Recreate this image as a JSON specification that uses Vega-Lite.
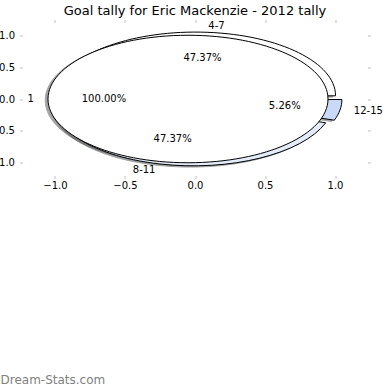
{
  "$schema": "https://vega.github.io/schema/vega-lite/v6.json",
  "autosize": {"type": "none"},
  "width": 345,
  "height": 153,
  "padding": {"left": 22.5, "top": 22.5, "right": 22.5, "bottom": 214.5},
  "background": "white",
  "title": {
    "text": "Goal tally for Eric Mackenzie - 2012 tally",
    "font": "DejaVu Sans",
    "fontSize": 13,
    "fontWeight": "normal",
    "color": "black",
    "anchor": "middle",
    "baseline": "alphabetic",
    "offset": 8,
    "dy": 17
  },
  "config": {"view": {"stroke": null}},
  "data": {
    "values": [
      {"pie": "B", "group": "4-7", "goals": 9, "order": 1},
      {"pie": "B", "group": "8-11", "goals": 9, "order": 2},
      {"pie": "B", "group": "12-15", "goals": 1, "order": 3},
      {"pie": "A", "group": "1", "goals": 1, "order": 1}
    ]
  },
  "transform": [
    {"joinaggregate": [{"op": "sum", "field": "goals", "as": "total"}], "groupby": ["pie"]},
    {"window": [{"op": "sum", "field": "goals", "as": "cum"}], "sort": [{"field": "order"}], "groupby": ["pie"], "frame": [null, 0]},
    {"calculate": "2*PI*(datum.cum - datum.goals)/datum.total", "as": "a0"},
    {"calculate": "2*PI*datum.cum/datum.total", "as": "a1"},
    {"calculate": "(datum.a0 + datum.a1)/2", "as": "mid"},
    {"calculate": "0.05*cos(datum.mid)", "as": "cx"},
    {"calculate": "0.05*sin(datum.mid)", "as": "cy"},
    {"calculate": "datum.cx - 0.02", "as": "sx"},
    {"calculate": "datum.cy - 0.02", "as": "sy"},
    {"calculate": "datum.cx + 1.1*cos(datum.mid)", "as": "lx"},
    {"calculate": "datum.cy + 1.1*sin(datum.mid)", "as": "ly"},
    {"calculate": "datum.cx + 0.6*cos(datum.mid)", "as": "tx"},
    {"calculate": "datum.cy + 0.6*sin(datum.mid)", "as": "ty"},
    {"calculate": "format(datum.goals/datum.total*100, '.2f') + '%'", "as": "pct"},
    {"calculate": "datum.a1 - datum.a0 >= 2*PI - 1e-9 ? 'M140,0A140,63.75 0 1,0 -140,0A140,63.75 0 1,0 140,0Z' : 'M0,0L' + round(140*cos(datum.a0)*100)/100 + ',' + round(-63.75*sin(datum.a0)*100)/100 + 'A140,63.75 0 ' + (datum.a1 - datum.a0 > PI ? 1 : 0) + ',0 ' + round(140*cos(datum.a1)*100)/100 + ',' + round(-63.75*sin(datum.a1)*100)/100 + 'Z'", "as": "path"}
  ],
  "layer": [
    {
      "mark": {"type": "point", "filled": true, "size": 4, "opacity": 0.5, "strokeWidth": 1},
      "encoding": {
        "x": {
          "field": "sx", "type": "quantitative",
          "scale": {"domain": [-1.2321, 1.2321], "nice": false, "zero": false},
          "axis": {
            "orient": "bottom", "values": [-1, -0.5, 0, 0.5, 1], "format": ".1f",
            "domain": false, "grid": false, "tickColor": "#c0c0c0", "tickSize": 3, "tickWidth": 1,
            "labelFont": "DejaVu Sans", "labelFontSize": 10, "labelColor": "black", "labelPadding": 2,
            "title": "Dream-Stats.com", "titleFont": "DejaVu Sans", "titleFontSize": 12, "titleFontWeight": "normal",
            "titleColor": "#808080", "titleAnchor": "start", "titleAlign": "left", "titleBaseline": "alphabetic",
            "titleX": -22.5, "titleY": 208
          }
        },
        "y": {
          "field": "sy", "type": "quantitative",
          "scale": {"domain": [-1.2, 1.2], "nice": false, "zero": false},
          "axis": {
            "orient": "left", "values": [-1, -0.5, 0, 0.5, 1], "format": ".1f",
            "domain": false, "grid": false, "tickColor": "#c0c0c0", "tickSize": 3, "tickWidth": 1,
            "labelFont": "DejaVu Sans", "labelFontSize": 10, "labelColor": "black", "labelPadding": 5,
            "title": null
          }
        },
        "shape": {"field": "path", "type": "nominal", "scale": null},
        "fill": {"field": "group", "type": "nominal", "scale": {"domain": ["1", "4-7", "8-11", "12-15"], "range": ["#4d4d4d", "#4d4d4d", "#44474b", "#3c414a"]}, "legend": null},
        "stroke": {"field": "group", "type": "nominal", "scale": {"domain": ["1", "4-7", "8-11", "12-15"], "range": ["#4d4d4d", "#4d4d4d", "#44474b", "#3c414a"]}, "legend": null}
      }
    },
    {
      "transform": [{"filter": "datum.pie == 'B'"}],
      "mark": {"type": "point", "filled": true, "size": 4, "opacity": 1, "stroke": "black", "strokeWidth": 1},
      "encoding": {
        "x": {
          "field": "cx", "type": "quantitative",
          "scale": {"domain": [-1.2321, 1.2321], "nice": false, "zero": false},
          "axis": {
            "orient": "top", "values": [-1, -0.5, 0, 0.5, 1], "labels": false,
            "domain": false, "grid": false, "tickColor": "#c0c0c0", "tickSize": 3, "tickWidth": 1, "title": null
          }
        },
        "y": {
          "field": "cy", "type": "quantitative",
          "scale": {"domain": [-1.2, 1.2], "nice": false, "zero": false},
          "axis": {
            "orient": "right", "values": [-1, -0.5, 0, 0.5, 1], "labels": false,
            "domain": false, "grid": false, "tickColor": "#c0c0c0", "tickSize": 3, "tickWidth": 1, "title": null
          }
        },
        "shape": {"field": "path", "type": "nominal", "scale": null},
        "fill": {"field": "group", "type": "nominal", "scale": {"domain": ["1", "4-7", "8-11", "12-15"], "range": ["#ffffff", "#ffffff", "#e4ecfa", "#c9daf8"]}, "legend": null}
      }
    },
    {
      "transform": [{"filter": "datum.pie == 'A'"}],
      "mark": {"type": "point", "filled": true, "size": 4, "opacity": 1, "stroke": "black", "strokeWidth": 1},
      "encoding": {
        "x": {"field": "cx", "type": "quantitative", "scale": {"domain": [-1.2321, 1.2321], "nice": false, "zero": false}, "axis": null},
        "y": {"field": "cy", "type": "quantitative", "scale": {"domain": [-1.2, 1.2], "nice": false, "zero": false}, "axis": null},
        "shape": {"field": "path", "type": "nominal", "scale": null},
        "fill": {"field": "group", "type": "nominal", "scale": {"domain": ["1", "4-7", "8-11", "12-15"], "range": ["#ffffff", "#ffffff", "#e4ecfa", "#c9daf8"]}, "legend": null}
      }
    },
    {
      "transform": [{"filter": "cos(datum.mid) > 0"}],
      "mark": {"type": "text", "align": "left", "baseline": "middle", "font": "DejaVu Sans", "fontSize": 10, "color": "black"},
      "encoding": {
        "x": {"field": "lx", "type": "quantitative", "scale": {"domain": [-1.2321, 1.2321], "nice": false, "zero": false}, "axis": null},
        "y": {"field": "ly", "type": "quantitative", "scale": {"domain": [-1.2, 1.2], "nice": false, "zero": false}, "axis": null},
        "text": {"field": "group"}
      }
    },
    {
      "transform": [{"filter": "cos(datum.mid) <= 0"}],
      "mark": {"type": "text", "align": "right", "baseline": "middle", "font": "DejaVu Sans", "fontSize": 10, "color": "black"},
      "encoding": {
        "x": {"field": "lx", "type": "quantitative", "scale": {"domain": [-1.2321, 1.2321], "nice": false, "zero": false}, "axis": null},
        "y": {"field": "ly", "type": "quantitative", "scale": {"domain": [-1.2, 1.2], "nice": false, "zero": false}, "axis": null},
        "text": {"field": "group"}
      }
    },
    {
      "mark": {"type": "text", "align": "center", "baseline": "middle", "font": "DejaVu Sans", "fontSize": 10, "color": "black"},
      "encoding": {
        "x": {"field": "tx", "type": "quantitative", "scale": {"domain": [-1.2321, 1.2321], "nice": false, "zero": false}, "axis": null},
        "y": {"field": "ty", "type": "quantitative", "scale": {"domain": [-1.2, 1.2], "nice": false, "zero": false}, "axis": null},
        "text": {"field": "pct"}
      }
    }
  ],
  "resolve": {
    "axis": {"x": "independent", "y": "independent"},
    "scale": {"fill": "independent", "stroke": "independent"}
  }
}
